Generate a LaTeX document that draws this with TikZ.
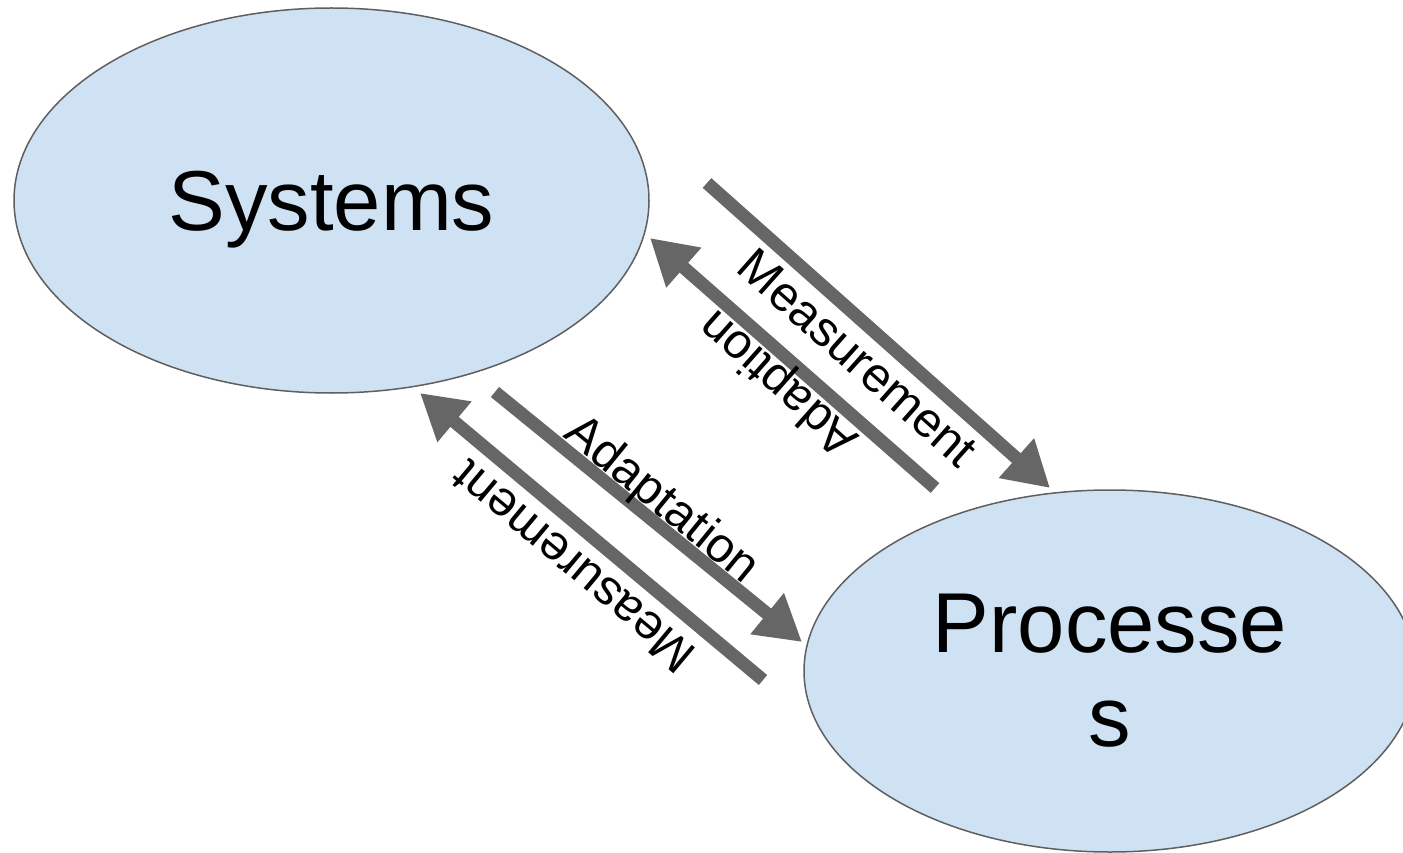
\documentclass[tikz,border=0pt]{standalone}
\usepackage{fontspec}
\setmainfont{Liberation Sans}
\usetikzlibrary{shapes.geometric,arrows.meta}
\definecolor{bubble}{HTML}{CFE2F3}
\definecolor{rim}{HTML}{5F5F5F}
\definecolor{flow}{HTML}{666666}
\begin{document}
\begin{tikzpicture}[x=1pt,y=-1pt,
  blob/.style={ellipse, draw=rim, line width=1.5pt, fill=bubble, inner sep=0pt,
    font=\fontsize{85}{94}\selectfont, align=center},
  flowarrow/.style={draw=flow, line width=13pt, -{Triangle[length=45pt,width=50pt]}},
  tag/.style={font=\fontsize{49}{55}\selectfont, inner sep=0pt}]
\useasboundingbox (0,0) rectangle (1403,853);
\clip (0,0) rectangle (1403,853);

% the two bubbles
\node[blob, text depth=0pt, minimum width=635pt, minimum height=385pt] (sys) at (331.5,200.5) {Systems};
\node[blob, minimum width=612pt, minimum height=362pt] (proc) at (1110,671) {Processe\\s};

% arrow end points
\coordinate (mA0) at (707,183);  \coordinate (mA1) at (1050,488);
\coordinate (aB0) at (935,488);  \coordinate (aB1) at (650,238);
\coordinate (aC0) at (495,392);  \coordinate (aC1) at (802,642);
\coordinate (mD0) at (763,680);  \coordinate (mD1) at (420,393);

% arrows
\draw[flowarrow] (mA0) -- (mA1);
\draw[flowarrow] (aB0) -- (aB1);
\draw[flowarrow] (aC0) -- (aC1);
\draw[flowarrow] (mD0) -- (mD1);

% labels
\node[tag, rotate=-41.6] (lblA) at (858,358) {Measurement};
\node[tag, rotate=138.4] (lblB) at (780,382) {Adaption};
\node[tag, rotate=-39.2] (lblC) at (661,501) {Adaptation};
\node[tag, rotate=140.1] (lblD) at (573,567) {Measurement};
\end{tikzpicture}
\end{document}
